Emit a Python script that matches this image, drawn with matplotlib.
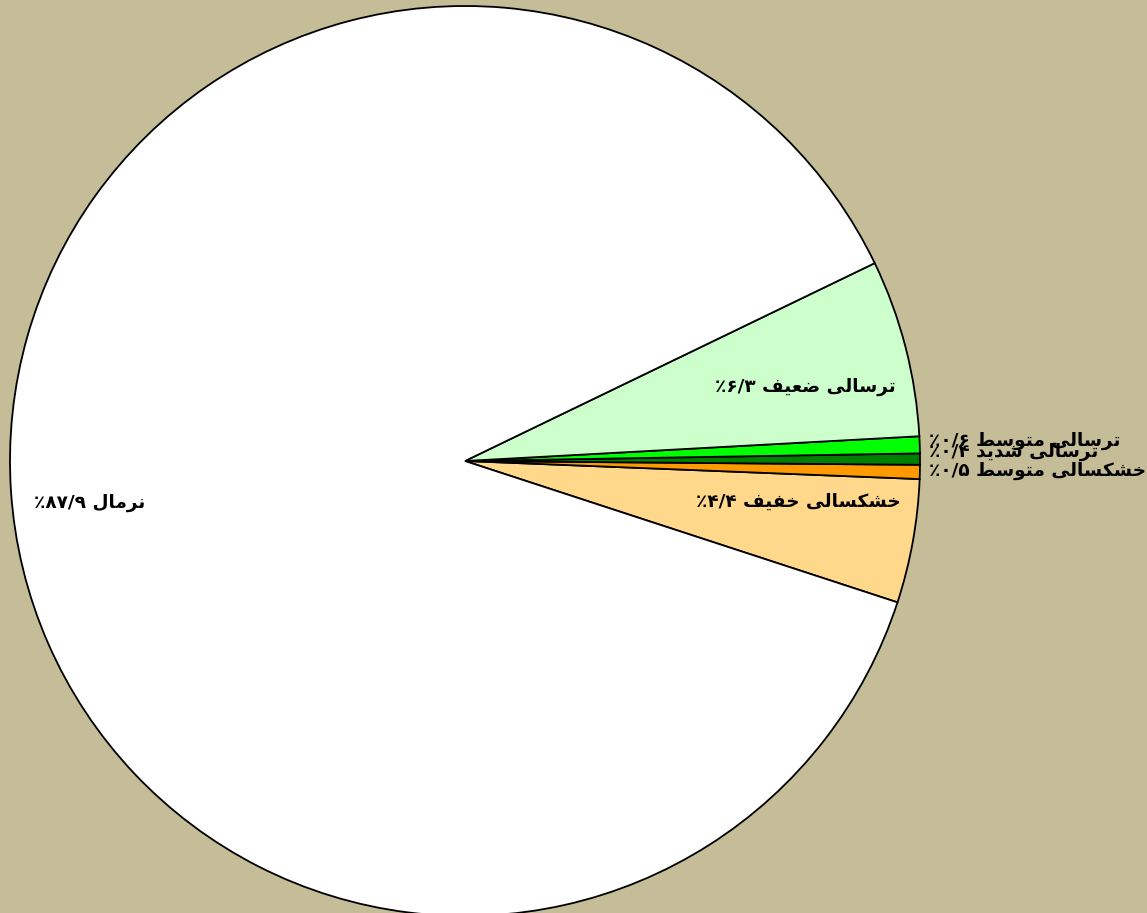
import matplotlib
matplotlib.use("Agg")
import matplotlib.pyplot as plt

# ---- data ----
categories = ["خشکسالی خفیف", "خشکسالی متوسط", "ترسالی شدید", "ترسالی متوسط", "ترسالی ضعیف", "نرمال"]
values = [4.4, 0.5, 0.4, 0.6, 6.3, 87.9]
value_labels = ["۴/۴", "۰/۵", "۰/۴", "۰/۶", "۶/۳", "۸۷/۹"]
colors = ["#FFD88C", "#FF9900", "#008000", "#00FF00", "#CCFFCC", "#FFFFFF"]

# ---- minimal Arabic/Persian shaping (matplotlib has no complex text layout) ----
FORMS = {
    'ا': ('\uFE8D', '\uFE8E', None, None),
    'ت': ('\uFE95', '\uFE96', '\uFE97', '\uFE98'),
    'ر': ('\uFEAD', '\uFEAE', None, None),
    'س': ('\uFEB1', '\uFEB2', '\uFEB3', '\uFEB4'),
    'ل': ('\uFEDD', '\uFEDE', '\uFEDF', '\uFEE0'),
    'ی': ('\uFBFC', '\uFBFD', '\uFBFE', '\uFBFF'),
    'ض': ('\uFEBD', '\uFEBE', '\uFEBF', '\uFEC0'),
    'ع': ('\uFEC9', '\uFECA', '\uFECB', '\uFECC'),
    'ف': ('\uFED1', '\uFED2', '\uFED3', '\uFED4'),
    'م': ('\uFEE1', '\uFEE2', '\uFEE3', '\uFEE4'),
    'و': ('\uFEED', '\uFEEE', None, None),
    'ط': ('\uFEC1', '\uFEC2', '\uFEC3', '\uFEC4'),
    'ش': ('\uFEB5', '\uFEB6', '\uFEB7', '\uFEB8'),
    'د': ('\uFEA9', '\uFEAA', None, None),
    'خ': ('\uFEA5', '\uFEA6', '\uFEA7', '\uFEA8'),
    'ک': ('\uFB8E', '\uFB8F', '\uFB90', '\uFB91'),
    'ن': ('\uFEE5', '\uFEE6', '\uFEE7', '\uFEE8'),
}


def dual(c):
    return c in FORMS and FORMS[c][2] is not None


def shape(s):
    out = []
    for i, c in enumerate(s):
        if c not in FORMS:
            out.append(c)
            continue
        prev = s[i - 1] if i > 0 else ''
        nxt = s[i + 1] if i + 1 < len(s) else ''
        jp = dual(prev)
        jn = dual(c) and nxt in FORMS
        iso, fin, ini, med = FORMS[c]
        if jp and jn:
            out.append(med)
        elif jp:
            out.append(fin)
        elif jn:
            out.append(ini)
        else:
            out.append(iso)
    vis = ''.join(out)[::-1]
    # keep number runs left-to-right
    res, run = [], ''
    for ch in vis:
        if ch in '۰۱۲۳۴۵۶۷۸۹/':
            run += ch
        else:
            if run:
                res.append(run[::-1])
                run = ''
            res.append(ch)
    if run:
        res.append(run[::-1])
    return ''.join(res)


labels = [shape(f"{c} {v}٪") for c, v in zip(categories, value_labels)]

# ---- figure ----
W, H, DPI = 1147, 913, 100
bg = "#C4BD97"
fig = plt.figure(figsize=(W / DPI, H / DPI), dpi=DPI, facecolor=bg)
ax = fig.add_axes([0, 0, 1, 1])
ax.set_facecolor(bg)

wedges, _ = ax.pie(values, colors=colors, startangle=-18.1, counterclock=True,
                   radius=1.0, wedgeprops=dict(edgecolor="black", linewidth=1.3))

cx, cy, R = 465, 461, 455
ax.set_aspect('auto')
ax.set_xlim(-cx / R, (W - cx) / R)
ax.set_ylim(-(H - cy) / R, cy / R)
ax.axis('off')

# label positions (x, y in radius units) and alignment
label_pos = [(0.732, -0.090, 'center'), (1.020, -0.022, 'left'), (1.020, 0.020, 'left'),
             (1.020, 0.044, 'left'), (0.747, 0.163, 'center'), (-0.824, -0.092, 'center')]
for lab, (x, y, ha) in zip(labels, label_pos):
    ax.text(x, y, lab, ha=ha, va='center', fontsize=13.3, fontweight='bold',
            family=['DejaVu Sans'], color='black')

fig.savefig("out.png", dpi=DPI, facecolor=bg)
